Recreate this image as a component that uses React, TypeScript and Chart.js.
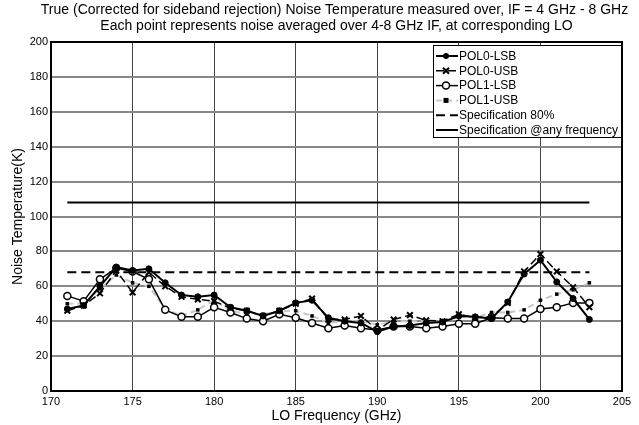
import React, { useEffect, useRef } from "react";
import { Chart, registerables } from "chart.js";
Chart.register(...registerables);

const LO = [171, 172, 173, 174, 175, 176, 177, 178, 179, 180, 181, 182, 183, 184, 185, 186, 187, 188, 189, 190, 191, 192, 193, 194, 195, 196, 197, 198, 199, 200, 201, 202, 203];
const pol0Lsb = [47, 49, 60, 71, 69, 70, 62, 55, 54, 55, 48, 46, 43, 46, 50.5, 52, 42, 40, 39, 34, 37, 37.5, 39, 39.5, 43, 42.5, 41.5, 51, 67, 75, 62.5, 53, 41];
const pol0Usb = [46, 49, 56, 69, 56.5, 68, 60, 54, 52.5, 51.5, 47.5, 46, 43, 46, 50, 53, 41, 41, 43, 35, 41, 43.5, 40.5, 40, 44, 42, 42.5, 50.5, 68.5, 78.5, 68.5, 59.5, 48];
const pol1Lsb = [54.5, 51.5, 64, 70.5, 68.5, 64, 46.5, 42.5, 42.5, 48, 45, 41.5, 40, 44, 42, 39, 36, 37.5, 36, 35, 37, 37, 36, 37, 38.5, 38.5, 42, 41.5, 41.5, 47, 48, 50.5, 50.5];
const pol1Usb = [50, 50, 58.5, 66.5, 62, 60, 47, 43, 46.5, 52, 46, 44, 44, 45.5, 46, 43, 39, 40, 40, 38, 40, 40, 40, 40, 42.5, 42, 45, 45, 46.5, 52, 55.5, 58, 62];
const specRange = [171, 203];
const spec80 = 68;
const specAny = 108;
const seriesNames = ["POL0-LSB", "POL0-USB", "POL1-LSB", "POL1-USB", "Specification 80%", "Specification @any frequency"];
const titleLines = [
  "True (Corrected for sideband rejection) Noise Temperature measured over, IF = 4 GHz - 8 GHz",
  "Each point represents noise averaged over 4-8 GHz IF, at corresponding LO",
];
const xTitle = "LO Frequency (GHz)";
const yTitle = "Noise Temperature(K)";

const FONT = "'Liberation Sans', Arial, sans-serif";

export default function App() {
  const ref = useRef<HTMLCanvasElement>(null);
  useEffect(() => {
    if (!ref.current) return;
    const pts = (ys: number[]) => LO.map((x, i) => ({ x, y: ys[i] }));
    const flat = (v: number) => specRange.map((x) => ({ x, y: v }));

    const drawMarker = (ctx: CanvasRenderingContext2D, kind: string, x: number, y: number) => {
      ctx.save();
      ctx.setLineDash([]);
      if (kind === "dot") {
        ctx.fillStyle = "#000";
        ctx.beginPath();
        ctx.arc(x, y, 3, 0, Math.PI * 2);
        ctx.fill();
      } else if (kind === "x") {
        ctx.strokeStyle = "#000";
        ctx.lineWidth = 2;
        ctx.beginPath();
        ctx.moveTo(x - 3, y - 3);
        ctx.lineTo(x + 3, y + 3);
        ctx.moveTo(x + 3, y - 3);
        ctx.lineTo(x - 3, y + 3);
        ctx.stroke();
      } else if (kind === "o") {
        ctx.fillStyle = "#fff";
        ctx.strokeStyle = "#000";
        ctx.lineWidth = 1.5;
        ctx.beginPath();
        ctx.arc(x, y, 3.5, 0, Math.PI * 2);
        ctx.fill();
        ctx.stroke();
      } else if (kind === "sq") {
        ctx.fillStyle = "#000";
        ctx.fillRect(x - 2.5, y - 2.5, 5, 5);
      }
      ctx.restore();
    };

    const legendStyles = [
      { color: "#000", dash: [] as number[], width: 2, marker: "dot" },
      { color: "#000", dash: [8, 4], width: 1.5, marker: "x" },
      { color: "#000", dash: [], width: 1.5, marker: "o" },
      { color: "#c8c8c8", dash: [6, 4], width: 2, marker: "sq" },
      { color: "#000", dash: [9, 5], width: 2, marker: "" },
      { color: "#000", dash: [], width: 2, marker: "" },
    ];

    const plugin = {
      id: "customDecor",
      afterDraw(chart: any) {
        const ctx: CanvasRenderingContext2D = chart.ctx;
        const a = chart.chartArea;
        ctx.save();
        ctx.strokeStyle = "#000";
        ctx.lineWidth = 2;
        ctx.strokeRect(a.left, a.top, a.right - a.left, a.bottom - a.top);
        ctx.fillStyle = "#000";
        ctx.font = `14px ${FONT}`;
        ctx.textAlign = "center";
        ctx.textBaseline = "middle";
        const cx = (a.left + a.right) / 2;
        ctx.fillText(titleLines[0], cx - 2, 10);
        ctx.fillText(titleLines[1], cx, 26);
        ctx.fillText(xTitle, cx, 416.5);
        ctx.save();
        ctx.translate(18, (a.top + a.bottom) / 2);
        ctx.rotate(-Math.PI / 2);
        ctx.fillText(yTitle, 0, 0);
        ctx.restore();
        const lx = 433, ly = 45, lw = 188, lh = 92;
        ctx.fillStyle = "#fff";
        ctx.fillRect(lx, ly, lw, lh);
        ctx.strokeStyle = "#000";
        ctx.lineWidth = 1;
        ctx.strokeRect(lx + 0.5, ly + 0.5, lw, lh);
        ctx.font = `12px ${FONT}`;
        ctx.textAlign = "left";
        seriesNames.forEach((name, i) => {
          const y = 56 + i * 14.8;
          const s = legendStyles[i];
          ctx.save();
          ctx.strokeStyle = s.color;
          ctx.lineWidth = s.width;
          ctx.setLineDash(s.dash);
          ctx.beginPath();
          ctx.moveTo(436, y);
          ctx.lineTo(458, y);
          ctx.stroke();
          ctx.restore();
          if (s.marker) drawMarker(ctx, s.marker, 446, y);
          ctx.fillStyle = "#000";
          ctx.fillText(name, 459, y + 0.5);
        });
        ctx.restore();
      },
    };

    const chart = new Chart(ref.current, {
      type: "line",
      data: {
        datasets: [
          {
            label: seriesNames[0],
            data: pts(pol0Lsb),
            borderColor: "#000",
            borderWidth: 2,
            pointStyle: "circle",
            pointRadius: 3,
            pointBackgroundColor: "#000",
            pointBorderColor: "#000",
            pointBorderWidth: 1,
          },
          {
            label: seriesNames[1],
            data: pts(pol0Usb),
            borderColor: "#000",
            borderWidth: 1.5,
            borderDash: [8, 4],
            pointStyle: "crossRot",
            pointRadius: 4,
            pointBorderColor: "#000",
            pointBorderWidth: 2,
          },
          {
            label: seriesNames[2],
            data: pts(pol1Lsb),
            borderColor: "#000",
            borderWidth: 1.5,
            pointStyle: "circle",
            pointRadius: 3.5,
            pointBackgroundColor: "#fff",
            pointBorderColor: "#000",
            pointBorderWidth: 1.5,
          },
          {
            label: seriesNames[3],
            data: pts(pol1Usb),
            borderColor: "#c8c8c8",
            borderWidth: 2,
            borderDash: [6, 4],
            pointStyle: "rect",
            pointRadius: 2.5,
            pointBackgroundColor: "#000",
            pointBorderColor: "#000",
            pointBorderWidth: 0,
          },
          {
            label: seriesNames[4],
            data: flat(spec80),
            borderColor: "#000",
            borderWidth: 2,
            borderDash: [9, 5],
            pointRadius: 0,
          },
          {
            label: seriesNames[5],
            data: flat(specAny),
            borderColor: "#000",
            borderWidth: 2,
            pointRadius: 0,
          },
        ],
      },
      options: {
        responsive: false,
        animation: false,
        devicePixelRatio: 1,
        layout: { padding: { top: 42, right: 17, left: 0, bottom: 0 } },
        plugins: { legend: { display: false }, title: { display: false }, tooltip: { enabled: false } },
        elements: { line: { tension: 0, fill: false } },
        scales: {
          x: {
            type: "linear",
            min: 170,
            max: 205,
            afterFit: (s: any) => { s.height = 34; },
            ticks: { stepSize: 5, color: "#000", font: { family: FONT, size: 11 }, padding: 4, maxRotation: 0 },
            grid: { color: "#444", lineWidth: 1, drawTicks: false },
            border: { display: false },
          },
          y: {
            type: "linear",
            min: 0,
            max: 200,
            afterFit: (s: any) => { s.width = 51; },
            ticks: { stepSize: 20, color: "#000", font: { family: FONT, size: 11 }, padding: 3 },
            grid: { color: "#888", lineWidth: 2, drawTicks: false },
            border: { display: false },
          },
        },
      },
      plugins: [plugin],
    } as any);
    return () => chart.destroy();
  }, []);

  return (
    <div style={{ position: "absolute", left: 0, top: 0, width: 639, height: 425, background: "#fff" }}>
      <canvas ref={ref} width={639} height={425} style={{ width: 639, height: 425, display: "block" }} />
    </div>
  );
}
